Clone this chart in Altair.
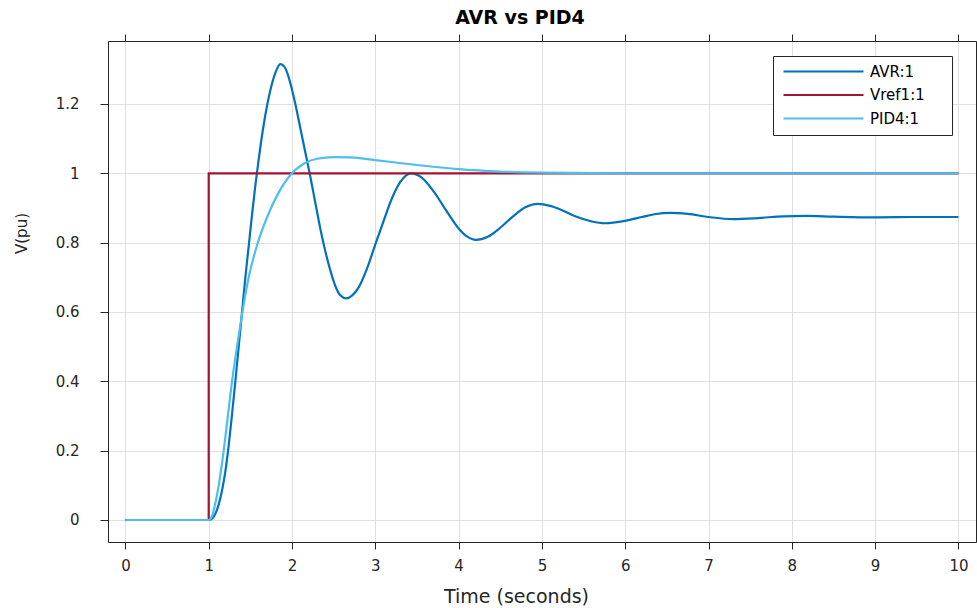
import altair as alt
import pandas as pd

# ---- data ----
avr_t = [0, 1.0, 1.04, 1.08, 1.12, 1.16, 1.20, 1.24, 1.28, 1.32, 1.36, 1.40, 1.44,
         1.48, 1.52, 1.56, 1.60, 1.65, 1.70, 1.75, 1.80, 1.86, 1.92, 1.98, 2.04,
         2.10, 2.16, 2.22, 2.28, 2.34, 2.40, 2.46, 2.52, 2.58, 2.65, 2.72, 2.80,
         2.90, 3.00, 3.10, 3.20, 3.30, 3.43, 3.55, 3.70, 3.85, 4.00, 4.10, 4.21,
         4.35, 4.50, 4.65, 4.80, 4.95, 5.10, 5.20, 5.40, 5.60, 5.75, 6.00, 6.20, 6.35,
         6.55, 6.75, 7.00, 7.30, 7.60, 7.90, 8.17, 8.50, 9.00, 9.50, 10.0]
avr_v = [0, 0, 0.004, 0.018, 0.045, 0.085, 0.14, 0.215, 0.305, 0.40, 0.50, 0.60, 0.70,
         0.79, 0.88, 0.965, 1.04, 1.125, 1.195, 1.25, 1.29, 1.315, 1.303, 1.26, 1.20,
         1.13, 1.06, 0.99, 0.915, 0.84, 0.775, 0.72, 0.675, 0.648, 0.639, 0.647, 0.671,
         0.725, 0.795, 0.863, 0.928, 0.975, 1.0, 0.989, 0.948, 0.893, 0.841, 0.818, 0.808,
         0.817, 0.843, 0.875, 0.902, 0.912, 0.906, 0.898, 0.876, 0.861, 0.856, 0.863, 0.874, 0.882,
         0.886, 0.883, 0.874, 0.868, 0.871, 0.876, 0.877, 0.875, 0.873, 0.874, 0.874]

vref_t = [0, 1, 1, 10]
vref_v = [0, 0, 1, 1]

pid_t = [0, 1.0, 1.04, 1.07, 1.12, 1.18, 1.23, 1.28, 1.34, 1.405, 1.48, 1.59, 1.73,
         1.83, 1.98, 2.15, 2.30, 2.50, 2.70, 3.00, 3.50, 4.00, 4.50, 5.00, 6.00, 10.0]
pid_v = [0, 0, 0.012, 0.038, 0.10, 0.20, 0.30, 0.40, 0.50, 0.60, 0.70, 0.80, 0.89,
         0.94, 0.995, 1.029, 1.042, 1.047, 1.046, 1.038, 1.024, 1.012, 1.005, 1.002, 1.0, 1.0]

series_names = ["AVR:1", "Vref1:1", "PID4:1"]
series_colors = ["#0072BD", "#A2142F", "#4DBEEE"]
x_ticks = list(range(0, 11))
y_ticks = [0, 0.2, 0.4, 0.6, 0.8, 1.0, 1.2]

rows = []
for name, ts, vs in zip(series_names, [avr_t, vref_t, pid_t], [avr_v, vref_v, pid_v]):
    for i, (t, v) in enumerate(zip(ts, vs)):
        rows.append({"series": name, "t": t, "v": v, "order": i})
df = pd.DataFrame(rows)

AX = "#262626"
GRID = "#dfdfdf"
FONT = "DejaVu Sans"

x_scale = alt.Scale(domain=[-0.209, 10.211], nice=False, zero=False)
y_scale = alt.Scale(domain=[-0.0635, 1.3817], nice=False, zero=False)

color = alt.Color(
    "series:N",
    scale=alt.Scale(domain=series_names, range=series_colors),
    legend=alt.Legend(
        title=None, orient="none", legendX=665, legendY=15,
        symbolType="M-1,0H15", symbolSize=100, symbolStrokeWidth=2,
        labelFont=FONT, labelFontSize=15, labelColor="#000000", labelOffset=74,
        labelExpr="datum.label + '\u00a0\u00a0\u00a0\u00a0\u200b'",
        strokeColor=AX, fillColor="white", padding=8, rowPadding=7.5,
    ),
)

x_bottom = alt.Axis(
    orient="bottom", values=x_ticks, format="d", grid=True, gridColor=GRID,
    domainColor=AX, tickColor=AX, tickSize=7, labelPadding=9,
    labelFont=FONT, labelFontSize=15, labelColor=AX,
    title="Time (seconds)", titleFont=FONT, titleFontSize=19, titleFontWeight="normal",
    titleColor=AX, titleX=408, titleY=60, titleBaseline="alphabetic",
)
y_left = alt.Axis(
    orient="left", values=y_ticks, format="~g", grid=True, gridColor=GRID,
    domainColor=AX, tickColor=AX, tickSize=8, labelPadding=21,
    labelFont=FONT, labelFontSize=15, labelColor=AX,
    title="V(pu)", titleFont=FONT, titleFontSize=15, titleFontWeight="normal",
    titleColor=AX, titleX=-87, titleY=192, titleAlign="center", titleBaseline="middle",
)
x_top = alt.Axis(orient="top", values=x_ticks, labels=False, grid=False, title=None,
                 domainColor=AX, tickColor=AX, tickSize=7)
y_right = alt.Axis(orient="right", values=y_ticks, labels=False, grid=False, title=None,
                   domainColor=AX, tickColor=AX, tickSize=8)

base = alt.Chart(df)


def series_layer(name, interp, axes):
    xa, ya = axes
    return base.transform_filter(alt.datum.series == name).mark_line(
        strokeWidth=2.2, interpolate=interp
    ).encode(
        x=alt.X("t:Q", scale=x_scale, axis=xa),
        y=alt.Y("v:Q", scale=y_scale, axis=ya),
        color=color,
        order="order:Q",
    )


avr_layer = series_layer("AVR:1", "monotone", (x_bottom, y_left))
vref_layer = series_layer("Vref1:1", "linear", (None, None))
pid_layer = series_layer("PID4:1", "monotone", (None, None))

frame_layer = base.mark_point(opacity=0).encode(
    x=alt.X("t:Q", scale=x_scale, axis=x_top),
    y=alt.Y("v:Q", scale=y_scale, axis=y_right),
)

chart = alt.layer(avr_layer, vref_layer, pid_layer, frame_layer).resolve_axis(
    x="independent", y="independent"
).properties(
    width=868, height=501,
    title=alt.TitleParams("AVR vs PID4", font=FONT, fontSize=19, fontWeight="bold",
                          color="#000000", anchor="middle", dx=-22, offset=6),
    autosize=alt.AutoSizeParams(type="none"),
    padding={"left": 108, "top": 41, "right": 1, "bottom": 66},
).configure_view(stroke=None).configure(background="white")

chart.save("out.html", embed_options={"renderer": "svg", "actions": False})
